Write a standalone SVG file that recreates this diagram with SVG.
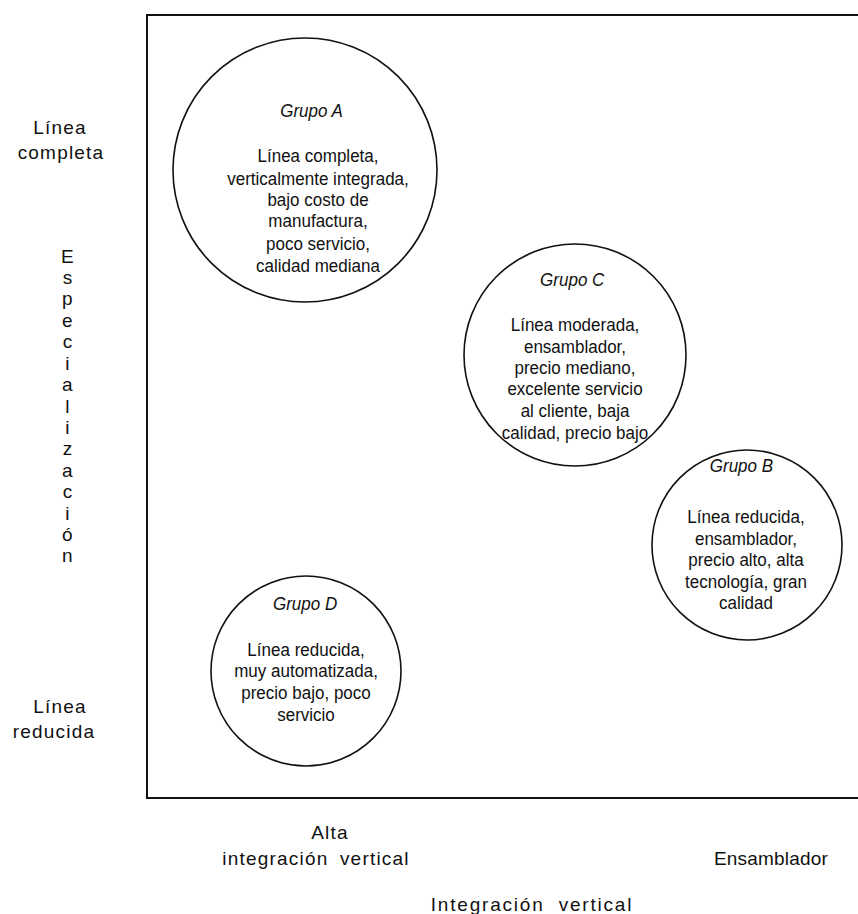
<svg xmlns="http://www.w3.org/2000/svg" width="858" height="914" viewBox="0 0 858 914">
<style>
text{font-family:"Liberation Sans",Arial,sans-serif;font-size:18.5px;fill:#111;text-anchor:middle}
.g{font-style:italic}
.ax{font-size:19px;letter-spacing:1.2px}
.node circle{fill:none;stroke:#111;stroke-width:1.6}
.axis{stroke:#111;fill:none}
</style>
<rect width="858" height="914" fill="#fff"/>
<g id="frame">
<path class="axis" d="M858 15 H147 V798 H858" stroke-width="2"/>
</g>
<g id="labels">
<text class="ax" x="60" y="134">Línea</text>
<text class="ax" x="61" y="159">completa</text>
<text class="ax" x="60" y="713">Línea</text>
<text class="ax" x="54" y="738">reducida</text>
<g id="ylabel">
<text class="ax" x="68" y="263">E</text><text class="ax" x="68" y="284">s</text><text class="ax" x="68" y="305">p</text><text class="ax" x="68" y="327">e</text><text class="ax" x="68" y="348">c</text><text class="ax" x="68" y="370">i</text><text class="ax" x="68" y="391">a</text><text class="ax" x="68" y="413">l</text><text class="ax" x="68" y="434">i</text><text class="ax" x="68" y="455">z</text><text class="ax" x="68" y="477">a</text><text class="ax" x="68" y="498">c</text><text class="ax" x="68" y="520">i</text><text class="ax" x="68" y="541">ó</text><text class="ax" x="68" y="562">n</text>
</g>
<text class="ax" x="330" y="839">Alta</text>
<text class="ax" x="316" y="865" style="word-spacing:5px">integración vertical</text>
<text class="ax" x="771" y="865" style="letter-spacing:0.2px">Ensamblador</text>
<text class="ax" x="532" y="911" style="word-spacing:7px;letter-spacing:1.8px">Integración vertical</text>
</g>
<g id="connectors"></g>
<g id="grupoA" class="node">
<circle cx="305" cy="170" r="132"/>
<g transform="translate(318 0) scale(0.92 1)">
<text class="g" x="-7" y="117">Grupo A</text>
<text x="0" y="162">Línea completa,</text>
<text x="0" y="185">verticalmente integrada,</text>
<text x="0" y="206">bajo costo de</text>
<text x="0" y="227">manufactura,</text>
<text x="0" y="250">poco servicio,</text>
<text x="0" y="272">calidad mediana</text>
</g>
</g>
<g id="grupoC" class="node">
<circle cx="575" cy="355" r="111"/>
<g transform="translate(575 0) scale(0.92 1)">
<text class="g" x="-3" y="286">Grupo C</text>
<text x="0" y="331">Línea moderada,</text>
<text x="0" y="353">ensamblador,</text>
<text x="0" y="374">precio mediano,</text>
<text x="0" y="395">excelente servicio</text>
<text x="0" y="417">al cliente, baja</text>
<text x="0" y="439">calidad, precio bajo</text>
</g>
</g>
<g id="grupoB" class="node">
<circle cx="747" cy="545" r="95"/>
<g transform="translate(746 0) scale(0.92 1)">
<text class="g" x="-5" y="472">Grupo B</text>
<text x="0" y="523">Línea reducida,</text>
<text x="0" y="545">ensamblador,</text>
<text x="0" y="566">precio alto, alta</text>
<text x="0" y="588">tecnología, gran</text>
<text x="0" y="609">calidad</text>
</g>
</g>
<g id="grupoD" class="node">
<circle cx="306" cy="671" r="95"/>
<g transform="translate(306 0) scale(0.92 1)">
<text class="g" x="-1" y="610">Grupo D</text>
<text x="0" y="656">Línea reducida,</text>
<text x="0" y="677">muy automatizada,</text>
<text x="0" y="699">precio bajo, poco</text>
<text x="0" y="721">servicio</text>
</g>
</g>
</svg>
